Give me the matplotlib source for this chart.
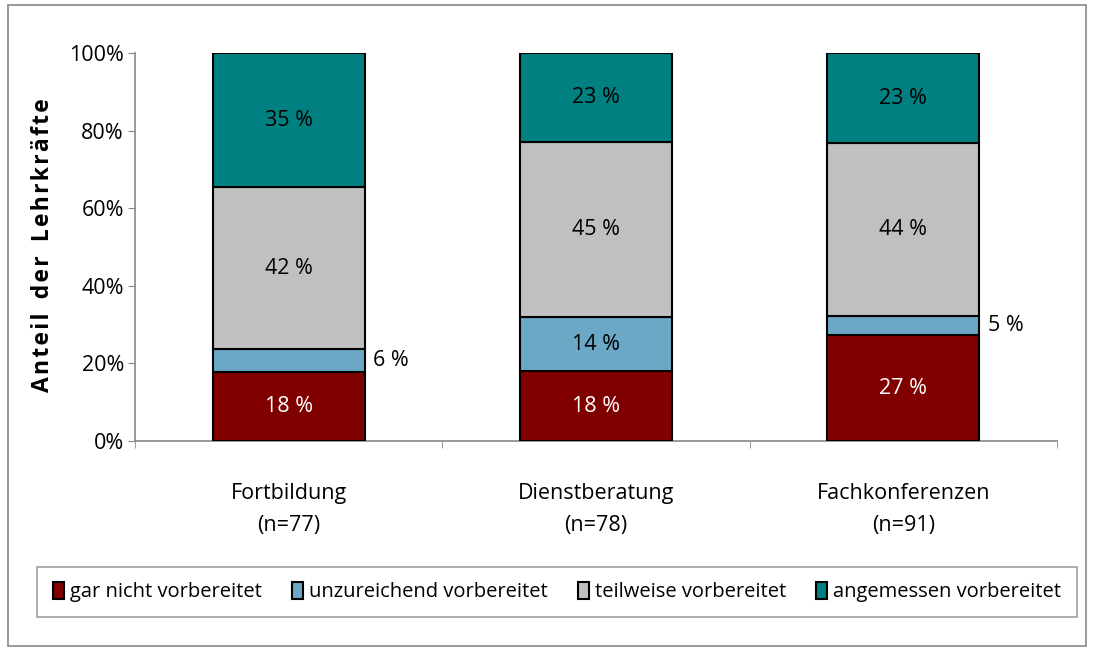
import numpy as np
import matplotlib
matplotlib.use("Agg")
import matplotlib.pyplot as plt
from matplotlib.patches import Rectangle

plt.rcParams['font.family'] = ['Open Sans', 'DejaVu Sans']

categories = ["Fortbildung\n(n=77)", "Dienstberatung\n(n=78)", "Fachkonferenzen\n(n=91)"]
series = ["gar nicht vorbereitet", "unzureichend vorbereitet", "teilweise vorbereitet", "angemessen vorbereitet"]
gar_nicht = [18, 18, 27]
unzureichend = [6, 14, 5]
teilweise = [42, 45, 44]
angemessen = [35, 23, 23]
colors = ["#800000", "#6aa8c6", "#c0c0c0", "#008080"]
text_colors = ["white", "black", "black", "black"]

data = np.array([gar_nicht, unzureichend, teilweise, angemessen], dtype=float)
shares = data / data.sum(axis=0) * 100

fig = plt.figure(figsize=(10.99, 6.51), dpi=100)
fig.patches.append(Rectangle((0.007, 0.008), 0.981, 0.985, transform=fig.transFigure,
                             fill=False, edgecolor="#888888", lw=1.2))
ax = fig.add_axes([135 / 1099, 1 - 441 / 651, 922 / 1099, 388 / 651])

x = np.arange(len(categories))
bottom = np.zeros(len(categories))
for i, name in enumerate(series):
    ax.bar(x, shares[i], 0.495, bottom=bottom, color=colors[i], edgecolor="black",
           linewidth=1.5, label=name, zorder=3)
    for j in range(len(categories)):
        mid = bottom[j] + shares[i][j] / 2
        if data[i][j] < 10:
            ax.text(x[j] + 0.275, mid, f"{int(data[i][j])} %", ha="left", va="center",
                    fontsize=15.5, color="black")
        else:
            ax.text(x[j], mid, f"{int(data[i][j])} %", ha="center", va="center",
                    fontsize=15.5, color=text_colors[i])
    bottom += shares[i]

ax.set_xlim(-0.5, 2.5)
ax.set_ylim(0, 100)
ax.set_yticks([0, 20, 40, 60, 80, 100])
ax.set_yticklabels([f"{v}%" for v in [0, 20, 40, 60, 80, 100]], fontsize=15.5)
ax.set_xticks(x)
ax.set_xticklabels(categories, fontsize=15.5, linespacing=1.7)
ax.set_xticks([-0.5, 0.5, 1.5, 2.5], minor=True)
ax.tick_params(axis="x", which="major", length=0, pad=30)
ax.tick_params(axis="x", which="minor", length=5, color="#888888")
ax.tick_params(axis="y", length=5, color="#888888", pad=3)
for s in ["top", "right"]:
    ax.spines[s].set_visible(False)
for s in ["left", "bottom"]:
    ax.spines[s].set_color("#888888")
    ax.spines[s].set_linewidth(1.2)

ylabel = "\u200a".join("Anteil der Lehrkräfte").replace(" \u200a", "  ")
fig.text(43 / 1099, 1 - 245 / 651, ylabel, rotation=90,
         ha="center", va="center", fontsize=16.5, fontweight="bold")

leg = fig.legend(loc="center", bbox_to_anchor=(557 / 1099, 1 - 592 / 651), ncol=4,
                 fontsize=14.5, frameon=True, fancybox=False, edgecolor="#888888",
                 handlelength=0.55, handleheight=0.9, handletextpad=0.3, columnspacing=1.5,
                 borderpad=0.75)
leg.get_frame().set_linewidth(1.2)

fig.savefig("out.png", dpi=100)
